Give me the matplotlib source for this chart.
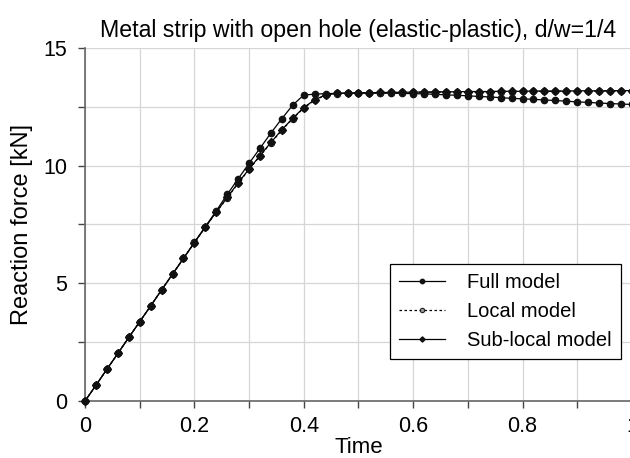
import matplotlib
matplotlib.use('Agg')
import matplotlib.pyplot as plt
from matplotlib.ticker import MultipleLocator

plt.rcParams['font.family'] = ['Liberation Sans', 'DejaVu Sans']

# time steps (every 0.02)
time = [0.00, 0.02, 0.04, 0.06, 0.08, 0.10, 0.12, 0.14, 0.16, 0.18,
        0.20, 0.22, 0.24, 0.26, 0.28, 0.30, 0.32, 0.34, 0.36, 0.38,
        0.40, 0.42, 0.44, 0.46, 0.48, 0.50, 0.52, 0.54, 0.56, 0.58,
        0.60, 0.62, 0.64, 0.66, 0.68, 0.70, 0.72, 0.74, 0.76, 0.78,
        0.80, 0.82, 0.84, 0.86, 0.88, 0.90, 0.92, 0.94, 0.96, 0.98, 1.00]

full_model = [0.00, 0.67, 1.35, 2.02, 2.70, 3.37, 4.04, 4.72, 5.39, 6.06,
              6.74, 7.41, 8.08, 8.78, 9.44, 10.10, 10.74, 11.39, 12.00, 12.58,
              13.00, 13.04, 13.06, 13.07, 13.08, 13.08, 13.08, 13.08, 13.08, 13.07,
              13.06, 13.05, 13.03, 13.01, 12.99, 12.97, 12.94, 12.92, 12.89, 12.86,
              12.84, 12.82, 12.79, 12.77, 12.74, 12.71, 12.69, 12.66, 12.64, 12.62, 12.60]

local_model = [0.00, 0.67, 1.35, 2.02, 2.70, 3.37, 4.04, 4.72, 5.39, 6.06,
               6.73, 7.39, 8.02, 8.63, 9.25, 9.84, 10.41, 10.97, 11.51, 12.00,
               12.45, 12.78, 13.00, 13.06, 13.08, 13.09, 13.10, 13.10, 13.11, 13.11,
               13.12, 13.12, 13.13, 13.13, 13.14, 13.14, 13.14, 13.15, 13.15, 13.15,
               13.16, 13.16, 13.16, 13.16, 13.17, 13.17, 13.17, 13.17, 13.18, 13.18, 13.18]

sublocal_model = [0.00, 0.67, 1.35, 2.02, 2.70, 3.37, 4.04, 4.72, 5.39, 6.06,
                  6.73, 7.39, 8.03, 8.65, 9.27, 9.86, 10.43, 10.99, 11.53, 12.02,
                  12.47, 12.80, 13.01, 13.07, 13.09, 13.10, 13.10, 13.11, 13.11, 13.12,
                  13.12, 13.13, 13.13, 13.14, 13.14, 13.15, 13.15, 13.15, 13.16, 13.16,
                  13.16, 13.17, 13.17, 13.17, 13.17, 13.18, 13.18, 13.18, 13.18, 13.19, 13.19]

x_ticks = [0, 0.2, 0.4, 0.6, 0.8, 1.0]
x_ticklabels = ['0', '0.2', '0.4', '0.6', '0.8', '1']
y_ticks = [0, 5, 10, 15]
y_ticklabels = ['0', '5', '10', '15']

fig = plt.figure(figsize=(6.3, 4.58), dpi=100)
ax = fig.add_axes([0.135, 0.1245, 0.868, 0.7707])

ax.plot(time, full_model, color='black', lw=0.9, marker='o', ms=4.5,
        mfc='#111111', mec='#111111', label='Full model', clip_on=False, zorder=3)
ax.plot(time, local_model, color='black', lw=0.9, ls=(0, (2, 2)), marker='o', ms=4.5,
        mfc='#999999', mec='#222222', mew=0.8, label='Local model', clip_on=False, zorder=3)
ax.plot(time, sublocal_model, color='black', lw=0.9, marker='D', ms=3.8,
        mfc='#111111', mec='#111111', label='Sub-local model', clip_on=False, zorder=3)

ax.set_xlim(0, 1)
ax.set_ylim(0, 15)
ax.xaxis.set_minor_locator(MultipleLocator(0.1))
ax.yaxis.set_minor_locator(MultipleLocator(2.5))
ax.set_xticks(x_ticks)
ax.set_xticklabels(x_ticklabels)
ax.set_yticks(y_ticks)
ax.set_yticklabels(y_ticklabels)

ax.grid(True, which='both', color='#d6d6d6', lw=0.9)
ax.set_axisbelow(True)
for side in ['top', 'right']:
    ax.spines[side].set_visible(False)
for side in ['left', 'bottom']:
    ax.spines[side].set_color('#666666')
    ax.spines[side].set_linewidth(1.2)
ax.tick_params(which='both', direction='out', length=5, width=1, color='#444444',
               labelsize=15.5)
ax.tick_params(axis='x', pad=6)
ax.tick_params(axis='y', pad=8)

ax.set_xlabel('Time', fontsize=16, labelpad=0)
ax.set_ylabel('Reaction force [kN]', fontsize=17, labelpad=7)
ax.set_title('Metal strip with open hole (elastic-plastic), d/w=1/4', fontsize=16.7, pad=8)

leg = ax.legend(loc='lower right', bbox_to_anchor=(0.98, 0.119), fontsize=14.5,
                frameon=True, fancybox=False, edgecolor='black', framealpha=1,
                markerscale=0.7, handlelength=2.3, borderpad=0.45, labelspacing=0.5,
                handletextpad=1.1, borderaxespad=0)
leg.get_frame().set_linewidth(0.9)

fig.savefig('out.png', dpi=100)
